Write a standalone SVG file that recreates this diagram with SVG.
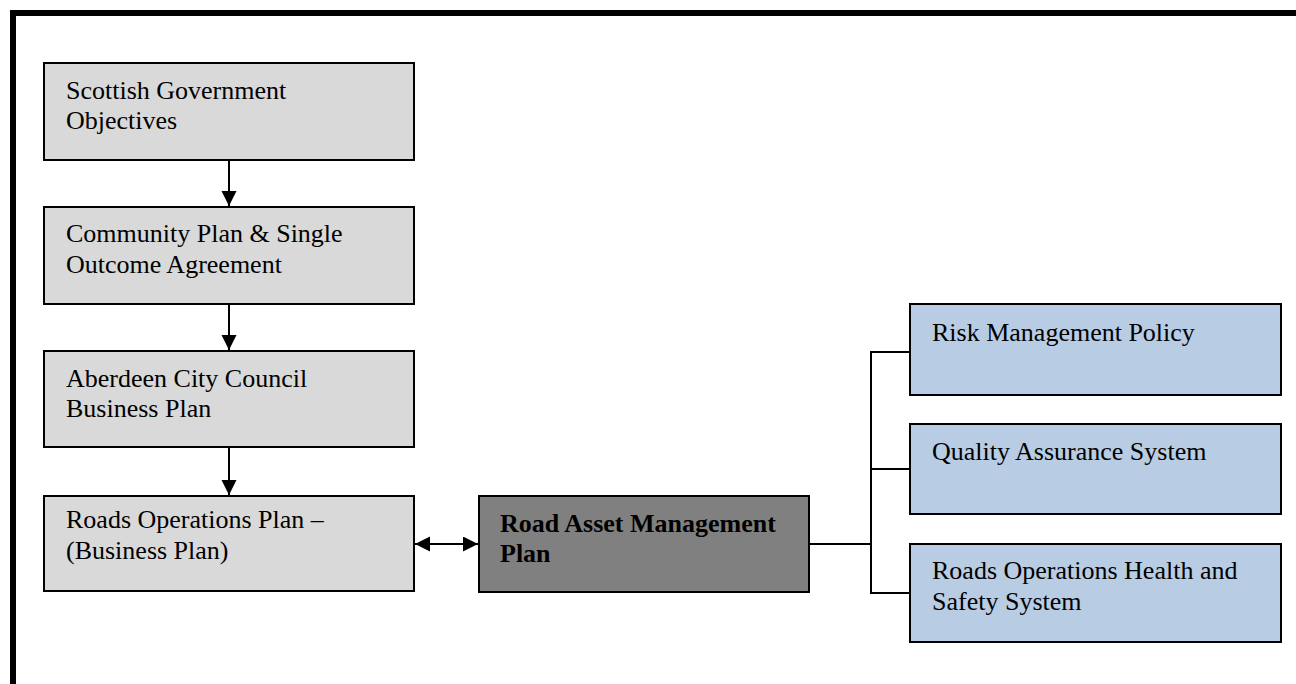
<svg xmlns="http://www.w3.org/2000/svg" width="1296" height="684" viewBox="0 0 1296 684">
<style>
.grey{fill:#d9d9d9;stroke:#000;stroke-width:2}
.dark{fill:#808080;stroke:#000;stroke-width:2}
.blue{fill:#b8cce4;stroke:#000;stroke-width:2}
text{font-family:"Liberation Serif","Times New Roman",serif;font-size:26px;fill:#000}
.b{font-weight:bold}
.conn{stroke:#000;stroke-width:2;fill:none}
</style>
<defs>
<marker id="ah" markerUnits="userSpaceOnUse" markerWidth="16" markerHeight="16" refX="15" refY="7.5" orient="auto-start-reverse" viewBox="0 0 16 16">
<path d="M0,0 L15,7.5 L0,15 Z" fill="#000"/>
</marker>
</defs>
<rect width="1296" height="684" fill="#fff"/>
<path d="M13,684 V13 H1296" fill="none" stroke="#000" stroke-width="6"/>
<g id="n1"><rect class="grey" x="44" y="63" width="370" height="97"/><text x="66" y="99">Scottish Government</text><text x="66" y="129">Objectives</text></g>
<g id="n2"><rect class="grey" x="44" y="207" width="370" height="97"/><text x="66" y="242">Community Plan &amp; Single</text><text x="66" y="273">Outcome Agreement</text></g>
<g id="n3"><rect class="grey" x="44" y="351" width="370" height="96"/><text x="66" y="387">Aberdeen City Council</text><text x="66" y="417">Business Plan</text></g>
<g id="n4"><rect class="grey" x="44" y="496" width="370" height="95"/><text x="66" y="528">Roads Operations Plan –</text><text x="66" y="559">(Business Plan)</text></g>
<g id="n5"><rect class="dark" x="479" y="496" width="330" height="96"/><text class="b" x="500" y="532">Road Asset Management</text><text class="b" x="500" y="562">Plan</text></g>
<g id="n6"><rect class="blue" x="910" y="304" width="371" height="91"/><text x="932" y="341">Risk Management Policy</text></g>
<g id="n7"><rect class="blue" x="910" y="424" width="371" height="90"/><text x="932" y="460">Quality Assurance System</text></g>
<g id="n8"><rect class="blue" x="910" y="544" width="371" height="98"/><text x="932" y="579">Roads Operations Health and</text><text x="932" y="610">Safety System</text></g>
<g id="connectors">
<line class="conn" x1="229" y1="161" x2="229" y2="206" marker-end="url(#ah)"/>
<line class="conn" x1="229" y1="305" x2="229" y2="350" marker-end="url(#ah)"/>
<line class="conn" x1="229" y1="448" x2="229" y2="495" marker-end="url(#ah)"/>
<line class="conn" x1="415" y1="544" x2="478" y2="544" marker-start="url(#ah)" marker-end="url(#ah)"/>
<path class="conn" d="M810,544 H871"/>
<path class="conn" d="M910,352 H871 V593 H910"/>
<path class="conn" d="M871,469 H910"/>
</g>
</svg>
